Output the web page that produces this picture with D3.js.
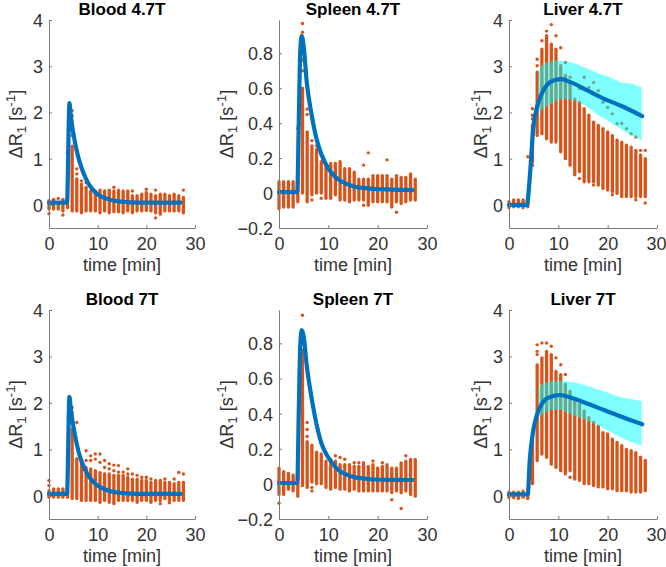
<!DOCTYPE html>
<html><head><meta charset="utf-8">
<script src="https://cdn.jsdelivr.net/npm/d3@7"></script>
<style>
body{margin:0;background:#fff}
svg{display:block}
text{font-family:"Liberation Sans",Arial,Helvetica,sans-serif;fill:#262626}
</style>
</head><body>
<svg id="c" width="666" height="567"></svg>
<script>
// ---------- data ----------
const panelTitles = ["Blood 4.7T","Spleen 4.7T","Liver 4.7T","Blood 7T","Spleen 7T","Liver 7T"];
const xTicks = [0,10,20,30];
const yTicksBig = [0,1,2,3,4];
const yTicksSpleen = [-0.2,0,0.2,0.4,0.6,0.8];
const yDomainBig = [-0.5,4];
const yDomainSpleen = [-0.2,0.99];

// acquisition times [min]
const times = [0,0.95,1.9,2.86,3.81,4.76,5.71,6.67,7.62,8.57,9.52,10.48,11.43,12.38,13.33,14.29,15.24,16.19,17.14,18.1,19.05,20,20.95,21.9,22.86,23.81,24.76,25.71,26.67,27.62];

// Blood 4.7T measured points: dense range per time (hi / lo) and isolated points [timeIndex, value]
const bloodA_hi = [0.09,0.09,0.05,0.09,0.05,1.27,0.56,0.45,0.38,0.3,0.3,0.32,0.3,0.32,0.3,0.32,0.3,0.3,0.2,0.2,0.23,0.27,0.23,0.2,0.23,0.23,0.2,0.23,0.2,0.16];
const bloodA_lo = [-0.09,-0.09,-0.09,-0.13,-0.06,-0.13,-0.13,-0.17,-0.13,-0.13,-0.13,-0.17,-0.13,-0.17,-0.15,-0.15,-0.17,-0.13,-0.17,-0.13,-0.13,-0.12,-0.13,-0.17,-0.2,-0.13,-0.13,-0.13,-0.13,-0.17];
const bloodA_pts = [[0,-0.19],[1,0.12],[2,0.14],[3,-0.22],[3,0.12],[4,1.14],[4,0.88],[5,2.04],[5,1.93],[5,1.8],[5,1.65],[5,1.5],[6,0.78],[6,0.67],[7,0.52],[8,0.48],[14,0.38],[18,0.3],[21,0.34],[23,0.32],[23,-0.28],[29,0.32]];
const bloodA_lineT = [0,3.7,4.2,4.5,5,5.5,6,6.5,7,8,9,10,11,12,13,14,16,18,22,27];
const bloodA_lineV = [0.05,0.05,2.2,1.9,1.55,1.27,1.04,0.86,0.71,0.48,0.33,0.23,0.17,0.13,0.1,0.08,0.06,0.05,0.05,0.05];
const bloodA_bandT = [4.2,4.5,5,5.5,6,6.5,7,8,9,10,11,12,14,16,20,27];
const bloodA_bandHi = [2.2,1.95,1.62,1.35,1.12,0.95,0.8,0.56,0.39,0.27,0.19,0.14,0.09,0.065,0.055,0.055];
const bloodA_bandLo = [2.2,1.87,1.5,1.22,0.99,0.81,0.66,0.44,0.3,0.21,0.15,0.12,0.075,0.055,0.045,0.045];

// Spleen 4.7T
const spleenA_hi = [0.065,0.065,0.065,0.065,0.065,0.6,0.35,0.27,0.25,0.18,0.16,0.17,0.17,0.17,0.14,0.14,0.12,0.08,0.08,0.08,0.1,0.1,0.1,0.1,0.08,0.1,0.09,0.09,0.11,0.08];
const spleenA_lo = [-0.09,-0.08,-0.08,-0.08,-0.05,0.0,-0.05,-0.01,0.0,0.0,-0.03,-0.03,-0.01,-0.04,-0.04,-0.05,-0.04,-0.04,-0.04,-0.07,-0.05,-0.05,-0.05,-0.05,-0.08,-0.05,-0.06,-0.05,-0.04,-0.04];
const spleenA_pts = [[4,0.37],[5,0.97],[5,0.92],[5,0.76],[5,0.7],[6,0.48],[6,0.45],[7,0.3],[7,-0.04],[8,0.27],[9,0.22],[9,-0.03],[13,0.18],[18,0.16],[18,-0.07],[19,0.23],[23,0.19],[25,-0.11]];
const spleenA_lineT = [0,3.7,4.0,4.3,4.6,5.0,5.6,6.6,7.6,8.6,10,11,12,13.5,15.4,17.5,19.5,23,27];
const spleenA_lineV = [0.005,0.005,0.4,0.8,0.9,0.84,0.64,0.45,0.31,0.22,0.14,0.105,0.078,0.055,0.036,0.028,0.023,0.02,0.017];
const spleenA_bandT = [4.6,5.0,5.6,6.6,7.6,8.6,10,11,12,13.5,15.4,19.5,27];
const spleenA_bandHi = [0.9,0.87,0.68,0.5,0.36,0.26,0.165,0.118,0.087,0.06,0.04,0.026,0.02];
const spleenA_bandLo = [0.9,0.83,0.62,0.43,0.29,0.2,0.125,0.095,0.07,0.05,0.033,0.02,0.015];

// Liver 4.7T
const liverA_hi = [0.07,0.11,0.11,0.11,0.07,1.72,2.87,3.37,3.66,3.48,3.37,3.01,2.8,2.65,2.29,2.22,2.08,1.94,1.79,1.72,1.65,1.58,1.5,1.4,1.36,1.29,1.25,1.18,1.08,1.0];
const liverA_lo = [-0.06,-0.04,-0.04,-0.06,-0.04,0.93,1.5,1.54,1.43,1.36,1.36,1.15,1.0,0.86,0.65,0.72,0.5,0.5,0.5,0.43,0.39,0.32,0.29,0.25,0.22,0.18,0.18,0.18,0.18,0.18];
const liverA_pts = [[4,1.04],[5,2.08],[5,1.94],[5,1.86],[5,0.86],[6,3.15],[6,3.01],[7,3.55],[8,3.76],[9,3.9],[10,3.66],[11,3.4],[12,3.08],[13,2.76],[14,2.62],[15,2.51],[15,0.57],[16,2.76],[17,2.54],[18,2.65],[18,0.43],[19,2.47],[20,2.22],[20,0.36],[21,2.11],[22,1.97],[22,0.22],[23,1.76],[24,1.76],[24,0.18],[25,1.65],[26,1.54],[27,1.47],[27,0.11],[28,1.18],[29,1.18],[29,0.04]];
const liverA_lineT = [0,3.6,4.3,4.9,5.6,6.6,7.9,9.3,10.6,12.6,16,19.4,22.8,27];
const liverA_lineV = [0,0,0.72,1.65,2.08,2.4,2.62,2.7,2.72,2.65,2.47,2.29,2.14,1.92];
const liverA_bandT = [5.95,6.6,8.0,9.3,11.4,12.7,14.7,16.1,18.1,19.5,21.5,22.8,24.9,26.9];
const liverA_bandHi = [2.87,3.01,3.09,3.12,3.11,3.08,3.0,2.94,2.85,2.8,2.71,2.65,2.62,2.54];
const liverA_bandLo = [2.0,2.06,2.15,2.24,2.29,2.27,2.19,2.1,1.94,1.86,1.72,1.63,1.5,1.4];

// Blood 7T
const bloodB_hi = [0.11,0.15,0.15,0.15,0.1,1.43,0.8,0.72,0.61,0.58,0.54,0.5,0.47,0.47,0.44,0.44,0.44,0.4,0.36,0.36,0.33,0.33,0.29,0.29,0.29,0.29,0.29,0.26,0.29,0.29];
const bloodB_lo = [-0.03,-0.03,-0.03,-0.03,-0.03,-0.06,-0.06,-0.1,-0.1,-0.1,-0.1,-0.14,-0.1,-0.14,-0.17,-0.1,-0.1,-0.1,-0.1,-0.14,-0.1,-0.1,-0.14,-0.1,-0.1,-0.06,-0.1,-0.1,-0.1,-0.1];
const bloodB_pts = [[0,0.33],[0,0.22],[5,1.9],[5,1.79],[5,1.69],[6,1.58],[8,0.97],[8,0.76],[9,0.86],[9,0.76],[10,0.9],[10,0.79],[11,0.9],[11,0.72],[12,0.76],[12,0.61],[13,0.69],[13,0.58],[14,0.66],[14,0.54],[15,0.65],[15,0.51],[16,0.51],[17,0.58],[17,0.47],[18,0.47],[19,0.44],[20,0.4],[21,0.4],[22,0.36],[23,0.33],[24,0.33],[24,-0.17],[25,0.36],[26,-0.15],[27,0.36],[28,0.5],[29,0.47]];
const bloodB_lineT = [0,3.7,4.2,4.5,5,5.5,6,6.5,7,8,9,10,11,12,13,14,16,18,22,27];
const bloodB_lineV = [0.04,0.04,2.13,1.85,1.5,1.22,0.98,0.8,0.66,0.45,0.31,0.22,0.16,0.12,0.09,0.07,0.05,0.04,0.04,0.04];
const bloodB_bandT = [4.2,4.5,5,5.5,6,6.5,7,8,9,10,11,12,14,16,20,27];
const bloodB_bandHi = [2.13,1.9,1.57,1.3,1.06,0.89,0.75,0.53,0.37,0.26,0.18,0.13,0.08,0.055,0.045,0.045];
const bloodB_bandLo = [2.13,1.82,1.45,1.17,0.93,0.76,0.62,0.41,0.28,0.2,0.14,0.11,0.065,0.045,0.035,0.035];

// Spleen 7T
const spleenB_hi = [0.09,0.07,0.06,0.05,0.08,0.76,0.24,0.22,0.18,0.17,0.13,0.14,0.13,0.11,0.11,0.11,0.1,0.1,0.11,0.1,0.11,0.09,0.1,0.11,0.09,0.09,0.12,0.13,0.14,0.14];
const spleenB_lo = [-0.06,-0.06,-0.03,-0.04,-0.07,-0.01,-0.02,0.01,0.0,0.0,-0.02,-0.03,-0.02,-0.03,-0.03,-0.04,-0.03,-0.04,-0.04,-0.04,-0.04,-0.04,-0.04,-0.04,-0.05,-0.04,-0.05,-0.04,-0.06,-0.07];
const spleenB_pts = [[0,-0.11],[5,0.96],[6,0.35],[6,0.31],[6,0.27],[7,-0.02],[7,-0.04],[12,0.16],[13,0.15],[14,0.14],[16,0.12],[17,0.12],[18,0.12],[20,0.13],[22,0.12],[24,-0.09],[26,-0.14],[27,0.16]];
const spleenB_lineT = [0,3.7,4.0,4.3,4.6,5.0,5.6,6.6,7.6,8.6,10,11,12,13.5,15.4,17.5,19.5,23,27];
const spleenB_lineV = [0.005,0.005,0.4,0.78,0.875,0.84,0.68,0.49,0.34,0.23,0.15,0.11,0.08,0.055,0.037,0.03,0.025,0.023,0.022];
const spleenB_bandT = [4.6,5.0,5.6,6.6,7.6,8.6,10,11,12,13.5,15.4,19.5,27];
const spleenB_bandHi = [0.875,0.86,0.72,0.54,0.39,0.27,0.17,0.122,0.09,0.062,0.042,0.028,0.025];
const spleenB_bandLo = [0.875,0.82,0.65,0.46,0.31,0.21,0.135,0.1,0.072,0.05,0.033,0.022,0.02];

// Liver 7T
const liverB_hi = [0.08,0.08,0.08,0.1,0.08,1.22,2.82,2.97,3.11,3.04,2.68,2.61,2.4,2.25,2.04,1.97,1.83,1.68,1.58,1.5,1.36,1.33,1.22,1.15,1.08,1.0,0.97,0.93,0.83,0.76];
const liverB_lo = [-0.04,-0.04,-0.06,-0.03,-0.06,0.26,0.76,0.9,0.83,0.68,0.61,0.54,0.47,0.54,0.36,0.33,0.26,0.26,0.22,0.19,0.19,0.15,0.15,0.11,0.11,0.11,0.08,0.08,0.08,0.11];
const liverB_pts = [[5,0.3],[6,3.25],[6,3.11],[6,3.04],[7,3.29],[8,3.29],[9,3.22],[10,2.97],[11,2.82],[12,2.61],[13,0.4]];
const liverB_lineT = [0,3.8,4.2,4.9,5.6,6.6,7.9,10.3,12.6,16,19.4,22.8,27];
const liverB_lineV = [0.03,0.03,0.76,1.4,1.72,1.97,2.11,2.17,2.11,1.98,1.84,1.7,1.54];
const liverB_bandT = [5.95,6.6,8.0,9.3,10.0,12.7,16.1,19.5,22.8,24.9,26.9];
const liverB_bandHi = [2.3,2.4,2.45,2.47,2.47,2.45,2.36,2.24,2.12,2.08,2.04];
const liverB_bandLo = [1.68,1.74,1.83,1.86,1.86,1.75,1.61,1.43,1.25,1.16,1.08];

// ---------- layout ----------
const colX = [[49,195],[279,427],[509,657]];
const rowY = [[20,228],[310,519]];
const ylabX = [22,233,487];
const C_ORANGE = "#D95319", C_BLUE = "#0072BD", C_CYAN = "#00FFFF";
const FS = 18, FT = 17;

const panels = [
  {hi:bloodA_hi, lo:bloodA_lo, pts:bloodA_pts, lt:bloodA_lineT, lv:bloodA_lineV, bt:bloodA_bandT, bh:bloodA_bandHi, bl:bloodA_bandLo, spleen:false},
  {hi:spleenA_hi, lo:spleenA_lo, pts:spleenA_pts, lt:spleenA_lineT, lv:spleenA_lineV, bt:spleenA_bandT, bh:spleenA_bandHi, bl:spleenA_bandLo, spleen:true},
  {hi:liverA_hi, lo:liverA_lo, pts:liverA_pts, lt:liverA_lineT, lv:liverA_lineV, bt:liverA_bandT, bh:liverA_bandHi, bl:liverA_bandLo, spleen:false},
  {hi:bloodB_hi, lo:bloodB_lo, pts:bloodB_pts, lt:bloodB_lineT, lv:bloodB_lineV, bt:bloodB_bandT, bh:bloodB_bandHi, bl:bloodB_bandLo, spleen:false},
  {hi:spleenB_hi, lo:spleenB_lo, pts:spleenB_pts, lt:spleenB_lineT, lv:spleenB_lineV, bt:spleenB_bandT, bh:spleenB_bandHi, bl:spleenB_bandLo, spleen:true},
  {hi:liverB_hi, lo:liverB_lo, pts:liverB_pts, lt:liverB_lineT, lv:liverB_lineV, bt:liverB_bandT, bh:liverB_bandHi, bl:liverB_bandLo, spleen:false}
];

const svg = d3.select("#c");

panels.forEach((p, k) => {
  const col = k % 3, row = Math.floor(k / 3);
  const x = d3.scaleLinear().domain([0,30]).range(colX[col]);
  const y = d3.scaleLinear().domain(p.spleen ? yDomainSpleen : yDomainBig).range([rowY[row][1], rowY[row][0]]);
  const g = svg.append("g");

  // scatter: dense runs of points as stacked markers
  const sc = g.append("g");
  sc.selectAll("line.run").data(times).join("line")
    .attr("x1", (t) => x(t)).attr("x2", (t) => x(t))
    .attr("y1", (t, i) => y(p.lo[i])).attr("y2", (t, i) => y(p.hi[i]))
    .attr("stroke", C_ORANGE).attr("stroke-width", 3.3).attr("stroke-linecap", "round");
  sc.selectAll("circle").data(p.pts).join("circle")
    .attr("cx", d => x(times[d[0]])).attr("cy", d => y(d[1])).attr("r", 1.7).attr("fill", C_ORANGE);

  // band
  const band = p.bt.map((t, i) => ({t, lo: p.bl[i], hi: p.bh[i]}));
  g.append("path").datum(band)
    .attr("d", d3.area().x(d => x(d.t)).y0(d => y(d.lo)).y1(d => y(d.hi)).curve(d3.curveMonotoneX))
    .attr("fill", C_CYAN).attr("fill-opacity", 0.5);

  // fitted curve
  const ln = p.lt.map((t, i) => ({t, v: p.lv[i]}));
  g.append("path").datum(ln)
    .attr("d", d3.line().x(d => x(d.t)).y(d => y(d.v)).curve(d3.curveMonotoneX))
    .attr("fill", "none").attr("stroke", C_BLUE).attr("stroke-width", 4.2)
    .attr("stroke-linejoin", "round").attr("stroke-linecap", "round");

  // axes
  const fmt = v => (v === 0 ? "0" : d3.format("")(+v.toFixed(1)));
  const ax = g.append("g").attr("transform", `translate(0,${rowY[row][1]})`)
    .call(d3.axisBottom(x).tickValues(xTicks).tickSize(-3).tickPadding(9).tickSizeOuter(0));
  const ay = g.append("g").attr("transform", `translate(${colX[col][0]},0)`)
    .call(d3.axisLeft(y).tickValues(p.spleen ? yTicksSpleen : yTicksBig).tickFormat(fmt).tickSize(-3).tickPadding(6).tickSizeOuter(0));
  [ax, ay].forEach(a => {
    a.select(".domain").attr("stroke", "#7a7a7a").attr("stroke-width", 1);
    a.selectAll(".tick line").attr("stroke", "#7a7a7a");
    a.selectAll(".tick text").attr("font-size", FS).attr("font-family", null).style("fill", "#333");
  });
  ay.selectAll(".tick text").attr("dy", "0.36em");
  if (col === 2) {
    ax.selectAll(".tick text").filter(d => d === 30).attr("text-anchor", "end").attr("dx", 9);
  }

  // title
  const cx = (colX[col][0] + colX[col][1]) / 2;
  g.append("text").attr("x", cx).attr("y", rowY[row][0] - 5)
    .attr("text-anchor", "middle").attr("font-size", FT).attr("font-weight", "bold")
    .style("fill", "#000").text(panelTitles[k]);

  // x label
  g.append("text").attr("x", cx).attr("y", rowY[row][1] + 43)
    .attr("text-anchor", "middle").attr("font-size", FS).style("fill", "#333").text("time [min]");

  // y label
  const cy = (rowY[row][0] + rowY[row][1]) / 2;
  const yl = g.append("text").attr("transform", `translate(${ylabX[col]},${cy}) rotate(-90)`)
    .attr("text-anchor", "middle").attr("font-size", FS).style("fill", "#333");
  yl.append("tspan").text("ΔR");
  yl.append("tspan").attr("font-size", FS * 0.75).attr("dy", 4).text("1");
  yl.append("tspan").attr("dy", -4).text(" [s");
  yl.append("tspan").attr("font-size", FS * 0.75).attr("dy", -7).text("-1");
  yl.append("tspan").attr("dy", 7).text("]");
});
</script>
</body></html>
